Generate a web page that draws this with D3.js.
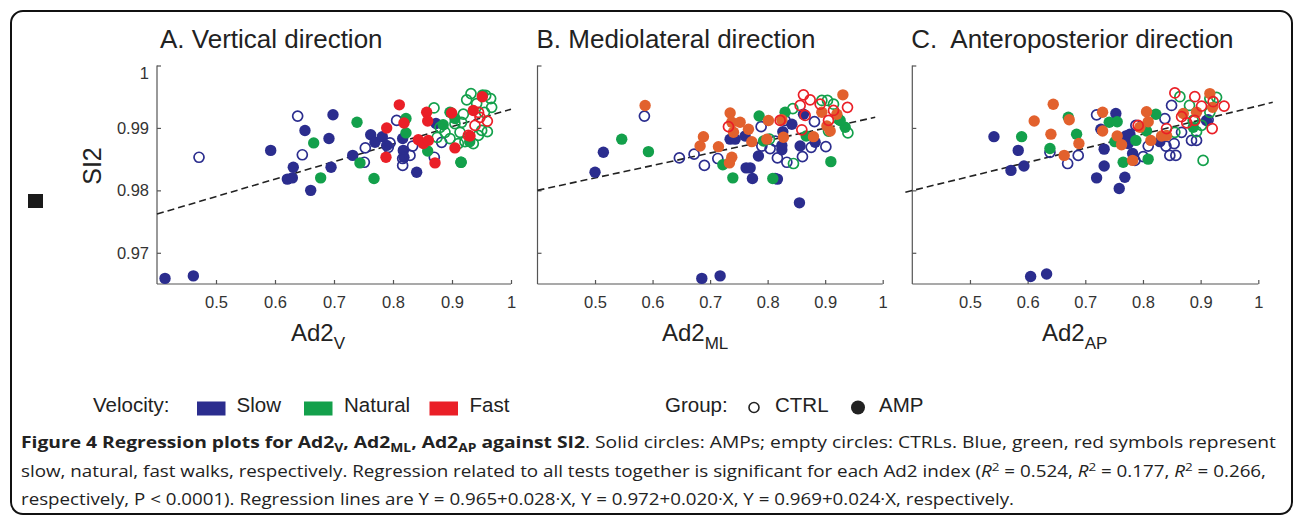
<!DOCTYPE html>
<html><head><meta charset="utf-8">
<script src="https://cdn.jsdelivr.net/npm/d3@7/dist/d3.min.js"></script>
<style>
html,body{margin:0;padding:0;background:#fff;}
svg{display:block;}
</style></head>
<body><svg id="c" width="1293" height="516"></svg>
<script>
// ---------------- DATA ----------------
const panelTitles = ["A. Vertical direction", "B. Mediolateral direction", "C.\u00a0 Anteroposterior direction"];
const axisSubs = ["V", "ML", "AP"];
const xTicks = [0.5, 0.6, 0.7, 0.8, 0.9, 1];
const yTicks = [0.97, 0.98, 0.99, 1];
const yTickLabels = ["0.97", "0.98", "0.99", "1"];
const velocities = ["Slow", "Natural", "Fast"];
const groups = ["CTRL", "AMP"];
// regression line end points [x, SI2] per panel
const regA = [[0.4, 0.9762], [1.0, 0.993]];
const regB = [[0.4, 0.980], [0.987, 0.9917]];
const regC = [[0.388, 0.9797], [1.025, 0.9941]];

// Panel A (Ad2_V)
const A_slow_amp = [[0.4136,0.9659],[0.4616,0.9663],[0.5927,0.9864],[0.6209,0.9818],[0.6294,0.9820],[0.631,0.9837],[0.6508,0.9896],[0.6605,0.980],[0.6915,0.9883],[0.695,0.9837],[0.6983,0.9921],[0.7317,0.9856],[0.7622,0.9889],[0.7695,0.9877],[0.7819,0.9886],[0.7893,0.9872],[0.8164,0.9883],[0.8175,0.9864],[0.8186,0.9853],[0.8401,0.9829],[0.8729,0.9907]];
const A_slow_ctrl = [[0.4712,0.9853],[0.6384,0.9919],[0.6463,0.9857],[0.7531,0.9868],[0.7514,0.9845],[0.7949,0.9876],[0.792,0.9869],[0.8062,0.9912],[0.8164,0.9851],[0.8164,0.984],[0.8288,0.9856],[0.8333,0.9871],[0.87,0.9853],[0.8825,0.9877]];
const A_nat_amp = [[0.6656,0.9876],[0.6774,0.982],[0.739,0.9909],[0.744,0.9844],[0.7678,0.9819],[0.822,0.9915],[0.822,0.9892],[0.8588,0.9863],[0.9153,0.9845],[0.8966,0.9925],[0.952,0.9953],[0.885,0.9905],[0.905,0.9915],[0.93,0.9878]];
const A_nat_ctrl = [[0.8695,0.9932],[0.9322,0.9955],[0.9249,0.9945],[0.9655,0.9947],[0.9672,0.9933],[0.9599,0.9894],[0.9361,0.9875],[0.922,0.9878],[0.9136,0.9893],[0.905,0.9907],[0.8881,0.9893],[0.8797,0.9901],[0.9192,0.9922],[0.9418,0.9939],[0.9503,0.9896],[0.9164,0.9909],[0.8966,0.9883],[0.9107,0.9875],[0.9446,0.9888],[0.9571,0.9952],[0.9153,0.9845],[0.875,0.9885],[0.955,0.9925]];
const A_fast_amp = [[0.8107,0.9937],[0.7893,0.990],[0.8186,0.9908],[0.7881,0.9853],[0.8571,0.9925],[0.8588,0.9911],[0.8429,0.9881],[0.8514,0.9875],[0.8599,0.988],[0.8712,0.9844],[0.8994,0.9924],[0.905,0.9868],[0.9361,0.9928],[0.9513,0.995],[0.9305,0.9887]];
const A_fast_ctrl = [[0.939,0.9904],[0.9599,0.9911],[0.9475,0.9917],[0.9277,0.9888],[0.945,0.9925]];

// Panel B (Ad2_ML)
const B_slow_amp = [[0.5,0.9829],[0.5145,0.9861],[0.6856,0.9659],[0.7174,0.9663],[0.7348,0.9882],[0.7435,0.9882],[0.7609,0.9887],[0.7626,0.9836],[0.7696,0.9836],[0.7736,0.9819],[0.784,0.9855],[0.813,0.9819],[0.817,0.9818],[0.8247,0.9865],[0.8247,0.9872],[0.8264,0.9894],[0.8421,0.9906],[0.8553,0.978],[0.8565,0.9871],[0.8826,0.9877],[0.8623,0.9922]];
const B_slow_ctrl = [[0.5858,0.9919],[0.6466,0.9852],[0.6722,0.9858],[0.6901,0.984],[0.7134,0.9851],[0.7887,0.9902],[0.7899,0.9871],[0.8043,0.9867],[0.813,0.9879],[0.817,0.9852],[0.8334,0.9845],[0.8605,0.9854],[0.8757,0.9869],[0.9012,0.987],[0.8814,0.991],[0.8304,0.9912]];
const B_nat_amp = [[0.5464,0.9882],[0.5928,0.9862],[0.7221,0.9841],[0.7395,0.982],[0.7852,0.9919],[0.809,0.9819],[0.8304,0.9925],[0.9099,0.9846],[0.9348,0.9901],[0.9261,0.9912],[0.867,0.9887],[0.7928,0.9879]];
const B_nat_ctrl = [[0.8449,0.9843],[0.8438,0.9931],[0.8942,0.9944],[0.904,0.9944],[0.9145,0.9938],[0.9395,0.9892],[0.9058,0.9895],[0.8031,0.9882],[0.9232,0.9914]];
const B_fast_amp = [[0.587,0.9936],[0.6884,0.9886],[0.6826,0.9871],[0.7145,0.987],[0.7348,0.9924],[0.7377,0.9909],[0.7406,0.9893],[0.7522,0.9909],[0.7667,0.9898],[0.7725,0.9878],[0.7377,0.9853],[0.7336,0.9844],[0.8014,0.9912],[0.7986,0.9882],[0.8275,0.9885],[0.8247,0.9913],[0.8797,0.9886],[0.8942,0.9925],[0.903,0.9903],[0.9087,0.9895],[0.9308,0.9953],[0.9203,0.9922]];
const B_fast_ctrl = [[0.7319,0.9902],[0.8623,0.9953],[0.8739,0.9945],[0.8565,0.9936],[0.8594,0.9897],[0.8913,0.9938],[0.9145,0.9928],[0.9388,0.9933],[0.9058,0.9912],[0.8217,0.9912],[0.8652,0.992]];

// Panel C (Ad2_AP)
const C_slow_amp = [[0.5416,0.9886],[0.5837,0.9864],[0.5711,0.9832],[0.5936,0.9839],[0.6052,0.9662],[0.6329,0.9666],[0.7196,0.982],[0.7327,0.9839],[0.7327,0.9866],[0.727,0.9898],[0.753,0.9923],[0.7588,0.9803],[0.7686,0.9821],[0.7704,0.9887],[0.7774,0.989],[0.782,0.9859],[0.7743,0.9875],[0.8293,0.9878],[0.9102,0.9912]];
const C_slow_ctrl = [[0.6387,0.9861],[0.6694,0.9843],[0.6877,0.9856],[0.7196,0.9921],[0.7877,0.9904],[0.8004,0.9854],[0.8091,0.9871],[0.838,0.9915],[0.8398,0.9871],[0.8496,0.9936],[0.8541,0.9875],[0.8466,0.9856],[0.857,0.9856],[0.8669,0.9893],[0.8842,0.988],[0.8929,0.988],[0.913,0.9913],[0.786,0.9848]];
const C_nat_amp = [[0.5896,0.9886],[0.6387,0.9867],[0.6705,0.9917],[0.6849,0.989],[0.7415,0.9909],[0.7553,0.991],[0.7513,0.9878],[0.7657,0.9845],[0.7877,0.988],[0.8062,0.9895],[0.809,0.985],[0.8224,0.9922],[0.8871,0.9901]];
const C_nat_ctrl = [[0.864,0.995],[0.9276,0.9949],[0.916,0.9947],[0.8807,0.9936],[0.9043,0.9848],[0.8929,0.9894],[0.9016,0.9904],[0.916,0.9925],[0.8553,0.9893],[0.8871,0.9912]];
const C_fast_amp = [[0.6114,0.9911],[0.6444,0.9938],[0.6404,0.989],[0.6634,0.9856],[0.6721,0.9913],[0.6889,0.9875],[0.73,0.9925],[0.73,0.9895],[0.7553,0.9887],[0.7629,0.9873],[0.782,0.9848],[0.7946,0.9901],[0.8062,0.9926],[0.8091,0.991],[0.8137,0.988],[0.8323,0.9887],[0.8409,0.9888],[0.8699,0.9923],[0.8929,0.9925],[0.916,0.9955],[0.9207,0.9933]];
const C_fast_ctrl = [[0.8553,0.9956],[0.8899,0.995],[0.9407,0.9935],[0.92,0.9899],[0.9016,0.9935],[0.7917,0.9904],[0.8409,0.9899],[0.867,0.9918],[0.876,0.9908],[0.9217,0.9942],[0.8899,0.9912]];

const captionLines = [
  [{t:"Figure 4 Regression plots for Ad2",b:1},{t:"V",b:1,s:"sub"},{t:", Ad2",b:1},{t:"ML",b:1,s:"sub"},{t:", Ad2",b:1},{t:"AP",b:1,s:"sub"},{t:" against SI2",b:1},{t:". Solid circles: AMPs; empty circles: CTRLs. Blue, green, red symbols represent"}],
  [{t:"slow, natural, fast walks, respectively. Regression related to all tests together is significant for each Ad2 index ("},{t:"R",i:1},{t:"2",s:"sup"},{t:" = 0.524, "},{t:"R",i:1},{t:"2",s:"sup"},{t:" = 0.177, "},{t:"R",i:1},{t:"2",s:"sup"},{t:" = 0.266,"}],
  [{t:"respectively, P < 0.0001). Regression lines are Y = 0.965+0.028\u00b7X, Y = 0.972+0.020\u00b7X, Y = 0.969+0.024\u00b7X, respectively."}]
];

// ---------------- STYLE / LAYOUT ----------------
const colSlow = "#2b2d8e", colNat = "#13a04b", colFast = "#ea1f27", colFastAmpBC = "#e2612d";
const panels = [
  {title: panelTitles[0], sub: axisSubs[0], left: 157, right: 511, reg: regA, showY: true, labelX: 291,
   series: [[A_slow_amp,colSlow,1],[A_slow_ctrl,colSlow,0],[A_nat_amp,colNat,1],[A_nat_ctrl,colNat,0],[A_fast_amp,colFast,1],[A_fast_ctrl,colFast,0]]},
  {title: panelTitles[1], sub: axisSubs[1], left: 537.5, right: 882.7, reg: regB, showY: false, labelX: 662,
   series: [[B_slow_amp,colSlow,1],[B_slow_ctrl,colSlow,0],[B_nat_amp,colNat,1],[B_nat_ctrl,colNat,0],[B_fast_amp,colFastAmpBC,1],[B_fast_ctrl,colFast,0]]},
  {title: panelTitles[2], sub: axisSubs[2], left: 912.3, right: 1258.3, reg: regC, showY: false, labelX: 1042,
   series: [[C_slow_amp,colSlow,1],[C_slow_ctrl,colSlow,0],[C_nat_amp,colNat,1],[C_nat_ctrl,colNat,0],[C_fast_amp,colFastAmpBC,1],[C_fast_ctrl,colFast,0]]}
];
const plotTop = 65.5, plotBottom = 284;
const svg = d3.select("#c");
const sans = "'Liberation Sans', Arial, sans-serif";
const capFont = "'Open Sans', sans-serif";

// frame
svg.append("rect").attr("x",11).attr("y",11).attr("width",1281).attr("height",503)
  .attr("rx",12).attr("fill","none").attr("stroke","#111").attr("stroke-width",2);

panels.forEach((p) => {
  const x = d3.scaleLinear().domain([0.4, 1]).range([p.left, p.right]);
  const y = d3.scaleLinear().domain([0.965, 1]).range([plotBottom, plotTop]);
  const g = svg.append("g");

  // title
  g.append("text").attr("x", p.left + (p.title.startsWith("A") ? 3 : -1)).attr("y", 48)
    .attr("font-family", sans).attr("font-size", 26).attr("fill", "#222").text(p.title);

  // axes (ticks inward)
  const xAxis = d3.axisBottom(x).tickValues(xTicks).tickSize(-4).tickPadding(12)
    .tickFormat(d => d === 1 ? "1" : d3.format(".1f")(d));
  const gx = g.append("g").attr("transform", `translate(0,${plotBottom})`).call(xAxis);
  gx.select(".domain").attr("d", `M${p.left},0H${p.right}`);
  const yAxis = d3.axisLeft(y).tickValues(yTicks).tickSize(-4).tickPadding(8)
    .tickFormat((d, i) => p.showY ? yTickLabels[i] : "");
  const gy = g.append("g").attr("transform", `translate(${p.left},0)`).call(yAxis);
  gy.select(".domain").attr("d", `M0,${plotTop}V${plotBottom}`);
  [gx, gy].forEach(a => {
    a.selectAll(".domain").attr("stroke", "#555").attr("stroke-width", 1.2);
    a.selectAll(".tick line").attr("stroke", "#555").attr("stroke-width", 1.2);
    a.selectAll(".tick text").attr("font-family", sans).attr("font-size", 16.5).attr("fill", "#333");
  });
  gy.selectAll(".tick text").filter(d => d === 1).attr("transform", "translate(0,8)");

  // regression line
  g.append("line")
    .attr("x1", x(p.reg[0][0])).attr("y1", y(p.reg[0][1]))
    .attr("x2", x(p.reg[1][0])).attr("y2", y(p.reg[1][1]))
    .attr("stroke", "#222").attr("stroke-width", 1.6).attr("stroke-dasharray", "7,4");

  // points
  p.series.forEach(([pts, col, filled]) => {
    g.append("g").selectAll("circle").data(pts).join("circle")
      .attr("cx", d => x(d[0])).attr("cy", d => y(d[1]))
      .attr("r", filled ? 5.7 : 5)
      .attr("fill", filled ? col : "none")
      .attr("stroke", col).attr("stroke-width", filled ? 0 : 1.7);
  });

  // x label
  const xl = g.append("text").attr("x", p.labelX).attr("y", 341)
    .attr("font-family", sans).attr("font-size", 24).attr("fill", "#222");
  xl.append("tspan").text("Ad2");
  xl.append("tspan").attr("dy", 8).attr("font-size", 17).text(p.sub);
});

// y label and small black square
svg.append("text").attr("transform", "translate(101,166) rotate(-90)")
  .attr("text-anchor", "middle").attr("font-family", sans).attr("font-size", 25).attr("fill", "#222").text("SI2");
svg.append("rect").attr("x", 28).attr("y", 194).attr("width", 15).attr("height", 14).attr("fill", "#1a1a1a");

// legend
const lg = svg.append("g").attr("font-family", sans).attr("font-size", 20.5).attr("fill", "#222");
lg.append("text").attr("x", 93).attr("y", 412).text("Velocity:");
const velCols = [colSlow, colNat, colFast];
const velSq = [197, 304, 429.5], velTx = [236.5, 344, 469.5];
velocities.forEach((v, i) => {
  lg.append("rect").attr("x", velSq[i]).attr("y", 401.5).attr("width", 28.5).attr("height", 14).attr("fill", velCols[i]);
  lg.append("text").attr("x", velTx[i]).attr("y", 412).text(v);
});
lg.append("text").attr("x", 665).attr("y", 412).text("Group:");
lg.append("circle").attr("cx", 754).attr("cy", 407.5).attr("r", 5).attr("fill", "none").attr("stroke", "#222").attr("stroke-width", 1.6);
lg.append("text").attr("x", 775).attr("y", 412).text(groups[0]);
lg.append("circle").attr("cx", 858).attr("cy", 407.5).attr("r", 7).attr("fill", "#222");
lg.append("text").attr("x", 879).attr("y", 412).text(groups[1]);

// caption
const capBase = [448, 476.5, 504.5];
const capLen = [1255, 1245, 993];
captionLines.forEach((line, li) => {
  const t = svg.append("text").attr("x", 21).attr("y", capBase[li])
    .attr("font-family", capFont).attr("font-size", 16).attr("fill", "#222")
    .attr("textLength", capLen[li]).attr("lengthAdjust", "spacingAndGlyphs");
  let shift = 0;
  line.forEach(seg => {
    const ts = t.append("tspan").text(seg.t);
    if (seg.b) ts.attr("font-weight", "bold");
    if (seg.i) ts.attr("font-style", "italic");
    let target = seg.s === "sub" ? 4 : seg.s === "sup" ? -6 : 0;
    if (target !== shift) { ts.attr("dy", target - shift); shift = target; }
    if (seg.s) ts.attr("font-size", 11.5);
  });
});
</script>
</body></html>
